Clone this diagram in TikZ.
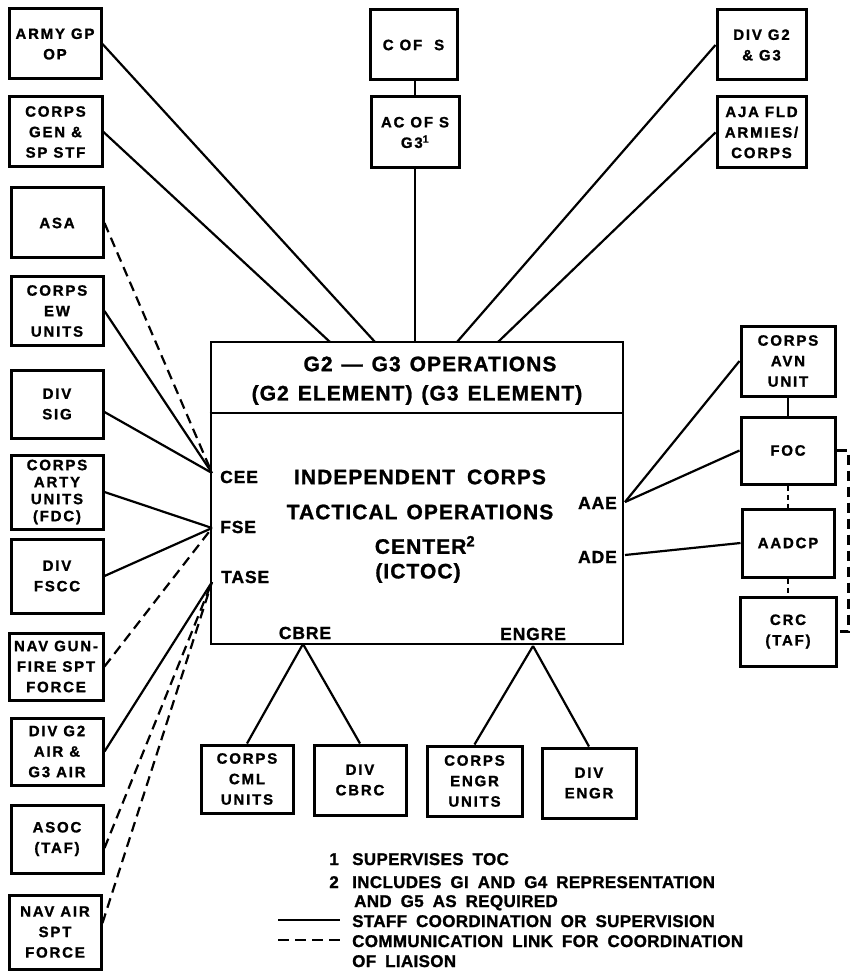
\documentclass[tikz,border=0pt]{standalone}
\usepackage{fontspec}
\newfontfamily\bxfont{Liberation Sans Bold}[LetterSpace=12,FakeBold=1.2]
\newfontfamily\ctfont{Liberation Sans Bold}[LetterSpace=5,FakeBold=1.2]
\newfontfamily\lgfont{Liberation Sans Bold}[LetterSpace=2,FakeBold=1.2]
\newcommand\myctrfont{\ctfont\fontsize{21}{24}\selectfont\spaceskip=9pt plus 2pt\relax}
\newcommand\mylegfont{\lgfont\fontsize{17}{20}\selectfont\spaceskip=9pt plus 2pt\relax}
\usetikzlibrary{calc}
\begin{document}
\begin{tikzpicture}[x=1pt,y=-1pt,
 box/.style={draw, line width=3pt, inner sep=0pt, align=center, font=\bxfont\fontsize{15}{20.5}\selectfont},
 wh/.style 2 args={minimum width=#1, minimum height=#2},
 conn/.style={line width=2.2pt},
 comm/.style={line width=2.2pt, dash pattern=on 10pt off 6pt},
 ctr/.style={inner sep=0pt, font=\myctrfont},
 elab/.style={inner sep=0pt, font=\ctfont\fontsize{17.5}{20}\selectfont},
 leg/.style={inner sep=0pt, anchor=base west, font=\mylegfont},
]
\fill[white] (0,0) rectangle (853,973);
\useasboundingbox (0,0) rectangle (853,973);

% ---------- left column ----------
\node[box, wh={92}{70}] (army) at (55,44) {ARMY GP\\OP};
\node[box, wh={93}{70}] (corpsgen) at (55.5,132) {CORPS\\GEN \&\\SP STF};
\node[box, wh={92}{70}] (asa) at (57,223) {ASA};
\node[box, wh={92}{68}] (ew) at (57,311) {CORPS\\EW\\UNITS};
\node[box, wh={92}{68}] (divsig) at (57,404) {DIV\\SIG};
\node[box, wh={92}{74}, font=\bxfont\fontsize{15}{17}\selectfont] (arty) at (57,492) {CORPS\\ARTY\\UNITS\\(FDC)};
\node[box, wh={92}{74}] (fscc) at (57,576) {DIV\\FSCC};
\node[box, wh={94}{67}] (navgun) at (56,666.5) {NAV GUN-\\FIRE SPT\\FORCE};
\node[box, wh={92}{67}] (divg2air) at (57,751.5) {DIV G2\\AIR \&\\G3 AIR};
\node[box, wh={92}{68}] (asoc) at (57,839) {ASOC\\(TAF)};
\node[box, wh={92}{74}] (navair) at (55,932) {NAV AIR\\SPT\\FORCE};

% ---------- top ----------
\node[box, wh={87}{70}] (cofs) at (413.5,45) {C OF\ \ S};
\node[box, wh={88}{71}] (acofs) at (415,132.5) {AC OF S\\G3\textsuperscript{1}};
\node[box, wh={89}{70}] (divg2g3) at (761.5,45) {DIV G2\\\& G3};
\node[box, wh={89}{71}] (aja) at (761.5,132.5) {AJA FLD\\ARMIES/\\CORPS};

% ---------- right ----------
\node[box, wh={94}{70}] (avn) at (788,361) {CORPS\\AVN\\UNIT};
\node[box, wh={94}{67}] (foc) at (788,450.5) {FOC};
\node[box, wh={92}{68}] (aadcp) at (788,543) {AADCP};
\node[box, wh={96}{69}] (crc) at (788,631.5) {CRC\\(TAF)};

% ---------- bottom ----------
\node[box, wh={92}{68}] (cml) at (247,779) {CORPS\\CML\\UNITS};
\node[box, wh={92}{70}] (cbrc) at (360,780) {DIV\\CBRC};
\node[box, wh={95}{70}] (cengr) at (474.5,781) {CORPS\\ENGR\\UNITS};
\node[box, wh={94}{70}] (dengr) at (589,783) {DIV\\ENGR};

% ---------- center ----------
\node[draw, line width=2.6pt, inner sep=0pt, wh={412}{302}] (toc) at (417,493) {};
\draw[line width=2.6pt] (toc.west |- 0,413) -- (toc.east |- 0,413);
\node[ctr] (hdr1) at (430,364) {G2 \textemdash\ G3 OPERATIONS};
\node[ctr] (hdr2) at (417,395) {(G2 ELEMENT) (G3 ELEMENT)};
\node[ctr] (t1) at (420,477) {INDEPENDENT\hspace{12pt}CORPS};
\node[ctr] (t2) at (420,512) {TACTICAL OPERATIONS};
\node[ctr] (t3) at (425,545) {CENTER\textsuperscript{2}};
\node[ctr] (t4) at (418,573) {(ICTOC)};
\node[elab, anchor=west] (lcee) at (220,477) {CEE};
\node[elab, anchor=west] (lfse) at (220,527) {FSE};
\node[elab, anchor=west] (ltase) at (221,577) {TASE};
\node[elab, anchor=east] (laae) at (617,503) {AAE};
\node[elab, anchor=east] (lade) at (617,557) {ADE};
\node[elab] (lcbre) at (305,633) {CBRE};
\node[elab] (lengre) at (533,634) {ENGRE};

% attachment points on the center box
\coordinate (cee) at (212,473);
\coordinate (fse) at (212,528);
\coordinate (tase) at (212,582);
\coordinate (ta) at (330,342);
\coordinate (tb) at (375,342);
\coordinate (tc) at (415,342);
\coordinate (td) at (457,342);
\coordinate (te) at (498,342);
\coordinate (aae) at (625,502);
\coordinate (ade) at (625,555);
\coordinate (cbre) at (303,644);
\coordinate (engre) at (533,646);

% ---------- connectors ----------
\draw[conn] (army.east) -- (tb);
\draw[conn] (corpsgen.east) -- (ta);
\draw[comm] (asa.east) -- (cee);
\draw[conn] (ew.east) -- (cee);
\draw[conn] ($(divsig.east)+(0,8)$) -- (cee);
\draw[conn] (arty.east) -- (fse);
\draw[conn] (fscc.east) -- (fse);
\draw[comm] (navgun.east) -- (fse);
\draw[conn] (divg2air.east) -- (tase);
\draw[comm] ($(asoc.east)+(0,9)$) -- (tase);
\draw[comm] ($(navair.east)+(0,-9)$) -- (tase);

\draw[conn] (acofs.north) -- (acofs.north |- cofs.south);
\draw[conn] (acofs.south) -- (tc);
\draw[conn] (divg2g3.west) -- (td);
\draw[conn] (aja.west) -- (te);

\draw[conn] (aae) -- (avn.west);
\draw[conn] (aae) -- (foc.west);
\draw[conn] (ade) -- (aadcp.west);
\draw[conn] (avn.south) -- (foc.north);
\draw[comm, dash pattern=on 5pt off 4pt] (foc.south) -- (aadcp.north);
\draw[comm, dash pattern=on 5pt off 4pt] (aadcp.south) -- (crc.north);
\draw[comm] (foc.east) -- ++(12,0) |- (crc.east);

\draw[conn] (cbre) -- (cml.north);
\draw[conn] (cbre) -- (cbrc.north);
\draw[conn] (engre) -- (cengr.north);
\draw[conn] (engre) -- (dengr.north);

% ---------- legend ----------
\node[leg, anchor=base east] (n1) at (339,865) {1};
\node[leg] (l1) at (352,865) {SUPERVISES TOC};
\node[leg, anchor=base east] (n2) at (339,888) {2};
\node[leg] (l2) at (352,888) {INCLUDES GI AND G4 REPRESENTATION};
\node[leg] (l3) at (354,907) {AND G5 AS REQUIRED};
\node[leg] (l4) at (352,927) {STAFF COORDINATION OR SUPERVISION};
\node[leg] (l5) at (352,947) {COMMUNICATION LINK FOR COORDINATION};
\node[leg] (l6) at (352,967) {OF LIAISON};
\coordinate (s1a) at (278,920);
\coordinate (s1b) at (340,920);
\coordinate (s2a) at (278,940);
\coordinate (s2b) at (340,940);
\draw[line width=1.8pt] (s1a) -- (s1b);
\draw[line width=1.8pt, dash pattern=on 11pt off 6pt] (s2a) -- (s2b);
\end{tikzpicture}
\end{document}
